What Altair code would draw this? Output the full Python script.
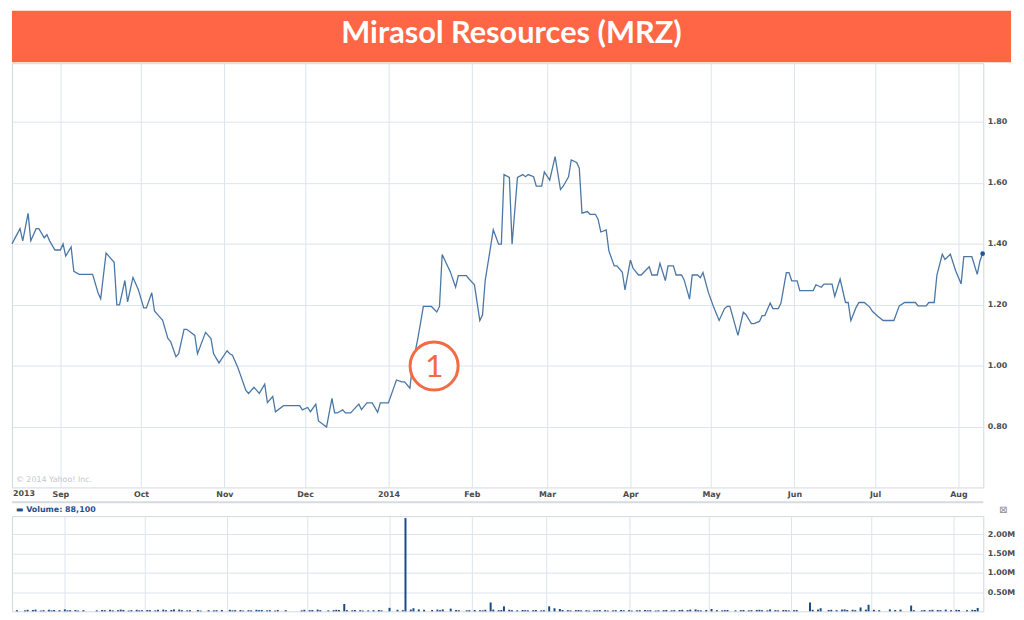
import altair as alt
import pandas as pd

TITLE = "Mirasol Resources (MRZ)"
VOLUME_LABEL = "▬ Volume: 88,100"
COPYRIGHT = "© 2014 Yahoo! Inc."
FIRST_YEAR = "2013"

dates = [
    "2013-08-14", "2013-08-17", "2013-08-18", "2013-08-20", "2013-08-21", "2013-08-23", "2013-08-24", "2013-08-26", "2013-08-27", "2013-08-28",
    "2013-08-30", "2013-09-01", "2013-09-02", "2013-09-03", "2013-09-05", "2013-09-06", "2013-09-08", "2013-09-13", "2013-09-15", "2013-09-16",
    "2013-09-18", "2013-09-19", "2013-09-21", "2013-09-22", "2013-09-23", "2013-09-25", "2013-09-26", "2013-09-28", "2013-09-29", "2013-09-30",
    "2013-10-02", "2013-10-03", "2013-10-05", "2013-10-06", "2013-10-08", "2013-10-09", "2013-10-11", "2013-10-12", "2013-10-14", "2013-10-15",
    "2013-10-17", "2013-10-18", "2013-10-21", "2013-10-22", "2013-10-25", "2013-10-27", "2013-10-28", "2013-10-30", "2013-11-02", "2013-11-03",
    "2013-11-04", "2013-11-06", "2013-11-07", "2013-11-09", "2013-11-10", "2013-11-12", "2013-11-13", "2013-11-14", "2013-11-16", "2013-11-17",
    "2013-11-19", "2013-11-20", "2013-11-23", "2013-11-29", "2013-11-30", "2013-12-02", "2013-12-03", "2013-12-05", "2013-12-06", "2013-12-09",
    "2013-12-11", "2013-12-12", "2013-12-13", "2013-12-15", "2013-12-16", "2013-12-18", "2013-12-19", "2013-12-21", "2013-12-22", "2013-12-24",
    "2013-12-26", "2013-12-28", "2013-12-29", "2014-01-01", "2014-01-04", "2014-01-06", "2014-01-07", "2014-01-09", "2014-01-10", "2014-01-12",
    "2014-01-14", "2014-01-17", "2014-01-19", "2014-01-20", "2014-01-21", "2014-01-24", "2014-01-26", "2014-01-27", "2014-01-30", "2014-01-31",
    "2014-02-02", "2014-02-04", "2014-02-05", "2014-02-06", "2014-02-08", "2014-02-09", "2014-02-11", "2014-02-12", "2014-02-13", "2014-02-15",
    "2014-02-16", "2014-02-18", "2014-02-20", "2014-02-21", "2014-02-22", "2014-02-24", "2014-02-25", "2014-02-27", "2014-02-28", "2014-03-02",
    "2014-03-04", "2014-03-06", "2014-03-07", "2014-03-09", "2014-03-10", "2014-03-12", "2014-03-13", "2014-03-14", "2014-03-16", "2014-03-17",
    "2014-03-19", "2014-03-20", "2014-03-21", "2014-03-23", "2014-03-24", "2014-03-26", "2014-03-27", "2014-03-29", "2014-03-30", "2014-04-01",
    "2014-04-02", "2014-04-04", "2014-04-05", "2014-04-07", "2014-04-08", "2014-04-09", "2014-04-11", "2014-04-12", "2014-04-14", "2014-04-15",
    "2014-04-17", "2014-04-18", "2014-04-20", "2014-04-21", "2014-04-23", "2014-04-24", "2014-04-26", "2014-04-27", "2014-04-28", "2014-04-30",
    "2014-05-02", "2014-05-04", "2014-05-06", "2014-05-07", "2014-05-08", "2014-05-11", "2014-05-13", "2014-05-14", "2014-05-16", "2014-05-17",
    "2014-05-19", "2014-05-20", "2014-05-21", "2014-05-23", "2014-05-24", "2014-05-26", "2014-05-27", "2014-05-29", "2014-05-30", "2014-05-31",
    "2014-06-02", "2014-06-03", "2014-06-08", "2014-06-09", "2014-06-11", "2014-06-12", "2014-06-15", "2014-06-16", "2014-06-18", "2014-06-20",
    "2014-06-21", "2014-06-22", "2014-06-24", "2014-06-25", "2014-06-27", "2014-06-29", "2014-06-30", "2014-07-02", "2014-07-04", "2014-07-08",
    "2014-07-10", "2014-07-12", "2014-07-16", "2014-07-17", "2014-07-20", "2014-07-21", "2014-07-23", "2014-07-24", "2014-07-26", "2014-07-27",
    "2014-07-29", "2014-07-31", "2014-08-02", "2014-08-03", "2014-08-06", "2014-08-08", "2014-08-09", "2014-08-10",
]

prices = [
    1.40, 1.45, 1.41, 1.50, 1.41, 1.45, 1.45, 1.42, 1.43, 1.41,
    1.38, 1.38, 1.40, 1.36, 1.39, 1.31, 1.30, 1.30, 1.24, 1.22,
    1.37, 1.36, 1.34, 1.20, 1.20, 1.28, 1.21, 1.29, 1.27, 1.25,
    1.19, 1.19, 1.24, 1.18, 1.16, 1.15, 1.09, 1.08, 1.03, 1.04,
    1.12, 1.12, 1.10, 1.04, 1.11, 1.09, 1.04, 1.01, 1.05, 1.04,
    1.035, 0.995, 0.97, 0.92, 0.91, 0.93, 0.92, 0.91, 0.94, 0.88,
    0.90, 0.85, 0.87, 0.87, 0.856, 0.864, 0.85, 0.875, 0.82, 0.80,
    0.894, 0.846, 0.846, 0.856, 0.846, 0.846, 0.856, 0.875, 0.857, 0.879,
    0.879, 0.848, 0.879, 0.879, 0.954, 0.948, 0.948, 0.927, 1.005, 1.092,
    1.195, 1.195, 1.177, 1.195, 1.365, 1.309, 1.258, 1.296, 1.296, 1.285,
    1.266, 1.149, 1.167, 1.28, 1.39, 1.446, 1.399, 1.399, 1.627, 1.618,
    1.399, 1.618, 1.627, 1.620, 1.627, 1.620, 1.589, 1.589, 1.636, 1.609,
    1.686, 1.578, 1.589, 1.620, 1.675, 1.667, 1.648, 1.501, 1.506, 1.497,
    1.497, 1.480, 1.439, 1.446, 1.377, 1.328, 1.328, 1.307, 1.249, 1.347,
    1.320, 1.298, 1.298, 1.316, 1.325, 1.298, 1.298, 1.336, 1.280, 1.328,
    1.328, 1.298, 1.298, 1.282, 1.219, 1.298, 1.298, 1.289, 1.306, 1.241,
    1.192, 1.149, 1.188, 1.195, 1.195, 1.100, 1.176, 1.168, 1.139, 1.139,
    1.146, 1.165, 1.165, 1.206, 1.188, 1.188, 1.206, 1.306, 1.306, 1.279,
    1.279, 1.247, 1.247, 1.266, 1.258, 1.268, 1.268, 1.228, 1.285, 1.208,
    1.208, 1.149, 1.193, 1.208, 1.208, 1.193, 1.179, 1.163, 1.149, 1.149,
    1.197, 1.208, 1.208, 1.197, 1.197, 1.208, 1.208, 1.298, 1.366, 1.349,
    1.366, 1.311, 1.269, 1.358, 1.358, 1.300, 1.344, 1.368,
]

volumes_k = [
    30, 25, 40, 35, 45, 20, 30, 40, 25, 35,
    30, 50, 25, 30, 35, 20, 30, 25, 35, 30,
    40, 25, 30, 45, 35, 20, 30, 40, 25, 30,
    35, 30, 25, 40, 45, 30, 35, 50, 45, 30,
    25, 30, 35, 20, 30, 25, 30, 35, 40, 25,
    30, 35, 20, 30, 25, 40, 30, 35, 25, 30,
    20, 35, 30, 25, 40, 30, 35, 45, 30, 25,
    30, 40, 35, 190, 30, 25, 35, 30, 20, 25,
    30, 35, 25, 90, 40, 30, 2420, 45, 80, 50,
    40, 35, 45, 30, 50, 70, 35, 30, 25, 30,
    35, 30, 25, 40, 230, 45, 30, 35, 130, 40,
    30, 25, 35, 30, 25, 30, 35, 25, 30, 130,
    80, 60, 35, 30, 25, 30, 35, 25, 30, 20,
    30, 25, 35, 30, 20, 25, 30, 35, 25, 30,
    20, 25, 30, 35, 25, 30, 20, 25, 30, 35,
    25, 30, 35, 40, 30, 45, 50, 30, 25, 35,
    60, 30, 25, 30, 35, 25, 30, 35, 25, 30,
    35, 40, 30, 25, 50, 30, 25, 35, 30, 25,
    30, 35, 230, 40, 45, 80, 35, 40, 30, 45,
    50, 35, 40, 30, 100, 45, 170, 40, 30, 50,
    35, 45, 150, 30, 25, 35, 30, 40, 35, 30,
    45, 30, 40, 35, 30, 40, 35, 88.1,
]

month_starts = [(2013, 9), (2013, 10), (2013, 11), (2013, 12), (2014, 1), (2014, 2),
                (2014, 3), (2014, 4), (2014, 5), (2014, 6), (2014, 7), (2014, 8)]
price_ticks = [0.8, 1.0, 1.2, 1.4, 1.6, 1.8]
price_domain = [0.602, 1.992]
volume_ticks = [500000, 1000000, 1500000, 2000000]
volume_domain = [0, 2470000]

annotation_date = ["2014-01-18"]
annotation_price = [1.00]
annotation_label = ["1"]

W, PH, VH = 980, 428, 96
GRID = "#dde4ec"
LABEL_FONT = "DejaVu Sans"
LABEL_COLOR = "#4a4a4a"
ORANGE = "#FF6645"

df = pd.DataFrame({"date": dates, "price": prices,
                   "volume": [v * 1000 for v in volumes_k]})
last_df = df.tail(1)
ann_df = pd.DataFrame({"date": annotation_date, "price": annotation_price,
                       "label": annotation_label})
one = pd.DataFrame({"k": [0]})

xscale = alt.Scale(domain=[alt.DateTime(year=2013, month=8, date=14),
                           alt.DateTime(year=2014, month=8, date=10, hours=6)])
month_vals = [alt.DateTime(year=y, month=m, date=1) for (y, m) in month_starts]

price_x_axis = alt.Axis(
    values=month_vals, grid=True, gridColor=GRID, ticks=False, domain=False,
    labelExpr="month(datum.value) == 0 ? timeFormat(datum.value, '%Y') : timeFormat(datum.value, '%b')",
    labelFont=LABEL_FONT, labelFontSize=8, labelFontWeight="bold", labelColor=LABEL_COLOR,
    labelPadding=3, labelFlush=False, labelOverlap=False, title=None)
price_y_axis = alt.Axis(
    orient="right", values=price_ticks, format=".2f", grid=True, gridColor=GRID,
    ticks=False, domain=False, labelPadding=4, labelFont=LABEL_FONT, labelFontSize=8,
    labelFontWeight="bold", labelColor=LABEL_COLOR, title=None)

X = alt.X("date:T", scale=xscale, axis=price_x_axis)
Y = alt.Y("price:Q", scale=alt.Scale(domain=price_domain, nice=False, zero=False),
          axis=price_y_axis)

line = alt.Chart(df).mark_line(color="#4a77a6", strokeWidth=1.3).encode(x=X, y=Y)
dot = alt.Chart(last_df).mark_circle(size=22, color="#1f5694", opacity=1).encode(x=X, y=Y)
ring = alt.Chart(ann_df).mark_point(
    shape="circle", size=2350, filled=True, fill="white", stroke="#F26B43",
    strokeWidth=3, opacity=1).encode(x=X, y=Y)
ring_text = alt.Chart(ann_df).mark_text(
    font="Lato", fontSize=32, color="#F26B43", baseline="middle", align="center", dy=1
).encode(x=X, y=Y, text="label:N")
year_text = alt.Chart(one).mark_text(
    align="left", baseline="top", font=LABEL_FONT, fontSize=8, fontWeight="bold",
    color=LABEL_COLOR).encode(x=alt.value(1), y=alt.value(PH + 3), text=alt.value(FIRST_YEAR))
sep = alt.Chart(one).mark_rule(color="#d5dbe2", strokeWidth=2).encode(
    x=alt.value(0), x2=alt.value(W), y=alt.value(PH + 15))
copy_text = alt.Chart(one).mark_text(
    align="left", baseline="middle", font=LABEL_FONT, fontSize=8, color="#c4c8cc"
).encode(x=alt.value(4), y=alt.value(PH - 7), text=alt.value(COPYRIGHT))

price_chart = alt.layer(line, dot, ring, ring_text, year_text, sep, copy_text).properties(
    width=W, height=PH, view=alt.ViewBackground(stroke="#d0d8e1", strokeWidth=1))

vol_x_axis = alt.Axis(values=month_vals, grid=True, gridColor=GRID, labels=False,
                      ticks=False, domain=False, title=None)
vol_y_axis = alt.Axis(
    orient="right", values=volume_ticks, labelExpr="format(datum.value / 1000000, '.2f') + 'M'",
    grid=True, gridColor=GRID, ticks=False, domain=False, labelPadding=4,
    labelFont=LABEL_FONT, labelFontSize=8, labelFontWeight="bold", labelColor=LABEL_COLOR,
    title=None)
bars = alt.Chart(df).mark_bar(size=2, color="#174a87").encode(
    x=alt.X("date:T", scale=xscale, axis=vol_x_axis),
    y=alt.Y("volume:Q", scale=alt.Scale(domain=volume_domain, nice=False), axis=vol_y_axis))
vol_label = alt.Chart(one).mark_text(
    align="left", baseline="middle", font=LABEL_FONT, fontSize=8, fontWeight="bold",
    color="#1f4f8b").encode(x=alt.value(4), y=alt.value(-6), text=alt.value(VOLUME_LABEL))
close_btn = alt.Chart(one).mark_text(
    align="center", baseline="middle", font=LABEL_FONT, fontSize=10, color="#8a8a8a"
).encode(x=alt.value(W + 20), y=alt.value(-6), text=alt.value("⊠"))
volume_chart = alt.layer(bars, vol_label, close_btn).properties(
    width=W, height=VH, view=alt.ViewBackground(stroke="#d0d8e1", strokeWidth=1))

title_chart = alt.Chart(pd.DataFrame({"t": [TITLE]})).mark_text(
    font="Lato", fontSize=31, fontWeight="bold", color="white", align="center",
    baseline="middle").encode(text="t:N", x=alt.value(504), y=alt.value(24)).properties(
    width=1008, height=52, view=alt.ViewBackground(fill=ORANGE, strokeWidth=0))

chart = alt.vconcat(title_chart, price_chart, volume_chart, spacing=0).properties(
    padding=0, background="white")

chart.save("out.html", embed_options={"renderer": "svg", "actions": False})
